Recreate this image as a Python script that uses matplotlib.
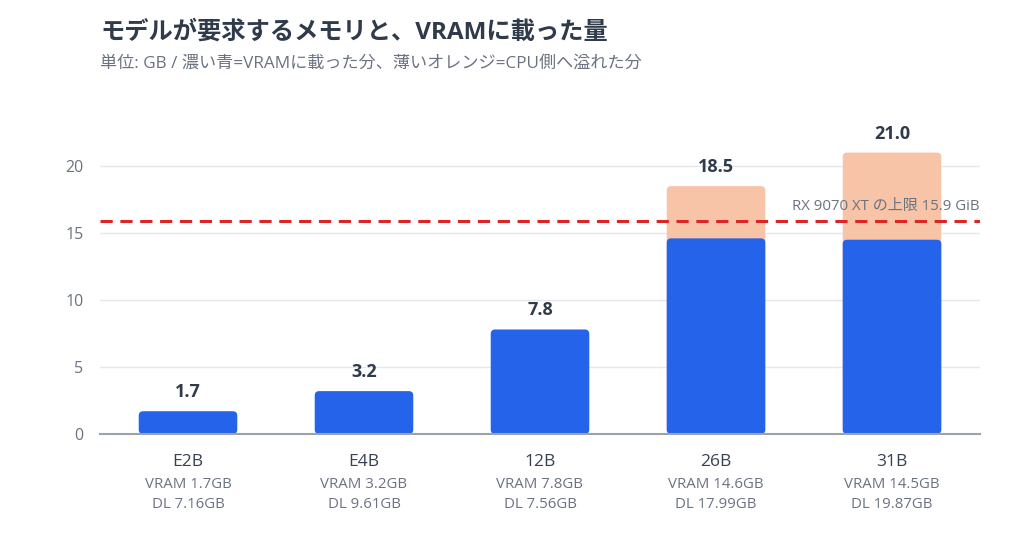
import matplotlib
matplotlib.use("Agg")
import matplotlib.pyplot as plt
from matplotlib.patches import FancyBboxPatch
from matplotlib.transforms import blended_transform_factory

plt.rcParams['font.family'] = ['Open Sans', 'Noto Sans CJK JP', 'DejaVu Sans']

models = ["E2B", "E4B", "12B", "26B", "31B"]
vram = [1.7, 3.2, 7.8, 14.6, 14.5]
total = [1.7, 3.2, 7.8, 18.5, 21.0]
download = [7.16, 9.61, 7.56, 17.99, 19.87]
limit = 15.9
limit_label = "RX 9070 XT の上限 15.9 GiB"
yticks = [0, 5, 10, 15, 20]

title = "モデルが要求するメモリと、VRAMに載った量"
subtitle = "単位: GB / 濃い青=VRAMに載った分、薄いオレンジ=CPU側へ溢れた分"

blue = "#2563eb"
orange = "#f8c4a8"
dark = "#2f3a4a"
grey = "#6b7280"

fig = plt.figure(figsize=(10.24, 5.4), dpi=100)
ax = fig.add_axes([100/1024, 1-434/540, 880/1024, (24*13.4)/540])
ax.set_xlim(-0.5, 4.5)
ax.set_ylim(0, 24)

w = 0.56
aspect = 176/13.4

def rbar(x, y0, h, color, z):
    p = FancyBboxPatch((x - w/2, y0), w, h,
                       boxstyle="round,pad=0,rounding_size=0.025",
                       mutation_aspect=aspect,
                       facecolor=color, edgecolor="none", zorder=z)
    ax.add_patch(p)

for i, m in enumerate(models):
    if total[i] > vram[i]:
        rbar(i, 0, total[i], orange, 2)
    rbar(i, 0, vram[i], blue, 3)
    ax.text(i, total[i] + 0.75, f"{total[i]:.1f}", ha="center", va="bottom",
            fontsize=13, fontweight="bold", color=dark, zorder=5)

ax.axhline(limit, color="#dc2626", lw=2.2, ls=(0, (4, 2.5)), zorder=4)
ax.text(4.5, limit + 0.5, limit_label, ha="right", va="bottom",
        fontsize=10.8, color=grey, zorder=5)

ax.set_yticks(yticks)
ax.set_yticklabels([str(t) for t in yticks])
ax.tick_params(axis="y", length=0, pad=12, labelsize=11.5, labelcolor=grey)
ax.set_xticks([])
ax.grid(axis="y", color="#e5e7eb", lw=1, zorder=0)
ax.set_axisbelow(True)
for s in ["top", "right", "left"]:
    ax.spines[s].set_visible(False)
ax.spines["bottom"].set_color("#9ca3af")
ax.spines["bottom"].set_linewidth(1.5)
ax.spines["bottom"].set_zorder(6)

tr = blended_transform_factory(ax.transData, fig.transFigure)
for i, m in enumerate(models):
    ax.text(i, 1-462/540, m, transform=tr, ha="center", va="center",
            fontsize=12.5, color="#374151")
    ax.text(i, 1-485/540, f"VRAM {vram[i]:.1f}GB", transform=tr, ha="center",
            va="center", fontsize=10.8, color=grey)
    ax.text(i, 1-505/540, f"DL {download[i]:.2f}GB", transform=tr, ha="center",
            va="center", fontsize=10.8, color=grey)

fig.text(100/1024, 1-33/540, title, ha="left", va="center", fontsize=17.5,
         fontweight="bold", color=dark)
fig.text(100/1024, 1-64/540, subtitle, ha="left", va="center", fontsize=12.3,
         color=grey)

fig.savefig("out.png", dpi=100, facecolor="white")
